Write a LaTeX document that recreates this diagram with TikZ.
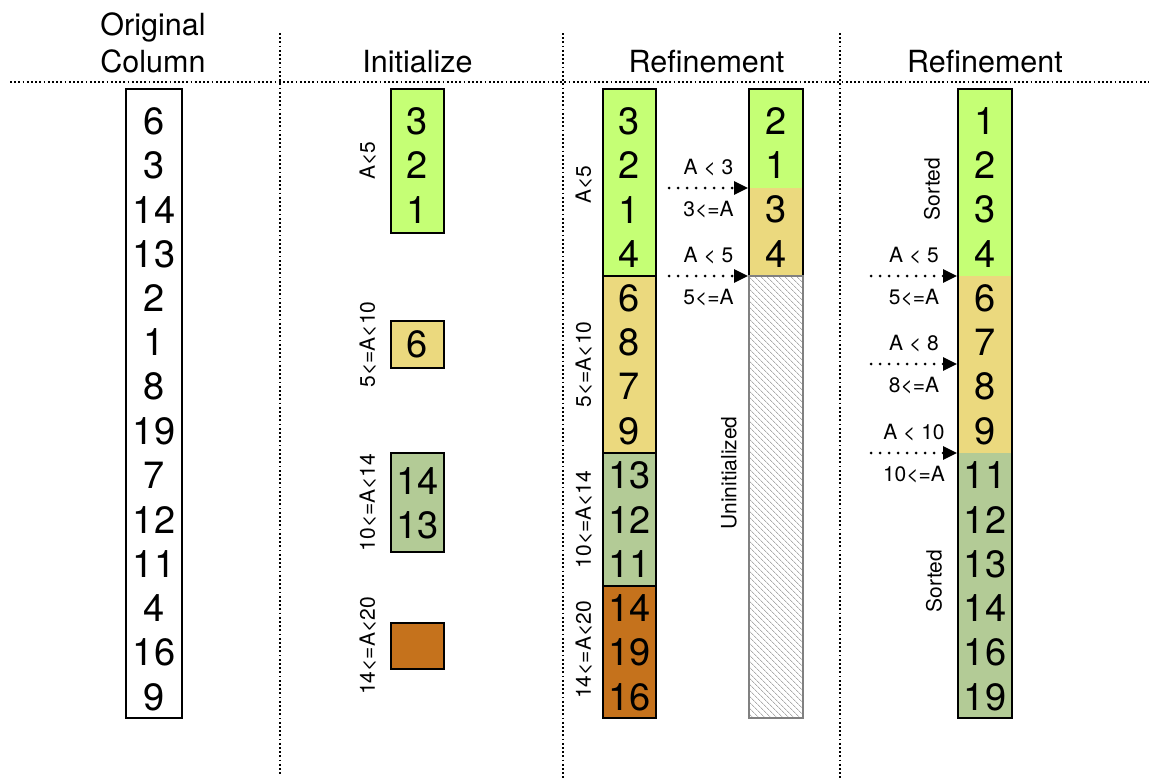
\documentclass[tikz,border=0pt]{standalone}
\usepackage{fontspec}
\setmainfont{TeX Gyre Heros}
\usetikzlibrary{arrows.meta,patterns,patterns.meta,positioning}
\definecolor{lowgreen}{RGB}{197,255,117}
\definecolor{midyellow}{RGB}{235,217,126}
\definecolor{highgreen}{RGB}{179,203,150}
\definecolor{toporange}{RGB}{197,114,28}
\tikzset{
  digit/.style={font=\fontsize{38}{38}\selectfont, inner sep=0pt},
  headtext/.style={font=\fontsize{30.5}{30.5}\selectfont, anchor=base, inner sep=0pt},
  condtext/.style={font=\fontsize{21}{21}\selectfont, inner sep=0pt},
  bandlabel/.style={condtext, rotate=90},
  colsep/.style={line width=1.8pt, dash pattern=on 1.8pt off 2.4pt},
  cellbox/.style={draw, line width=1.3pt},
  cutarrow/.style={line width=3pt, line cap=round, dash pattern=on 0pt off 9pt, -{Triangle[length=14pt,width=13pt]}},
}
\begin{document}
\begin{tikzpicture}[x=1pt,y=-1pt]
\useasboundingbox (0,0) rectangle (1149,780);
% headings
\node[headtext] (hdorig) at (153,35) {Original};
\node[headtext] (hdcol) at (153,72) {Column};
\node[headtext] (hdinit) at (417.5,72) {Initialize};
\node[headtext] (hdref1) at (706.5,72) {Refinement};
\node[headtext] (hdref2) at (985,72) {Refinement};
\draw[colsep] (10,82) -- (1149,82);
\draw[colsep] (280,33) -- (280,775);
\draw[colsep] (563,33) -- (563,780);
\draw[colsep] (840,33) -- (840,780);
% original column
\draw[cellbox] (126,89) rectangle (182,718);
\node[digit] (oc0) at (154,121) {6};
\node[digit] (oc1) at (154,165.3) {3};
\node[digit] (oc2) at (154,209.6) {14};
\node[digit] (oc3) at (154,253.9) {13};
\node[digit] (oc4) at (154,298.2) {2};
\node[digit] (oc5) at (154,342.5) {1};
\node[digit] (oc6) at (154,386.8) {8};
\node[digit] (oc7) at (154,431.1) {19};
\node[digit] (oc8) at (154,475.4) {7};
\node[digit] (oc9) at (154,519.7) {12};
\node[digit] (oc10) at (154,564) {11};
\node[digit] (oc11) at (154,608.3) {4};
\node[digit] (oc12) at (154,652.6) {16};
\node[digit] (oc13) at (154,696.9) {9};
% initialize
\draw[cellbox, fill=lowgreen] (391,89) rectangle (444,233);
\node[digit] (in0) at (417.5,121) {3};
\node[digit] (in1) at (417.5,165.3) {2};
\node[digit] (in2) at (417.5,209.6) {1};
\node[bandlabel] (inl0) at (368,161) {A<5};
\draw[cellbox, fill=midyellow] (391,321) rectangle (444,368);
\node[digit] (in3) at (417.5,344.5) {6};
\node[bandlabel] (inl1) at (368,344.5) {5<=A<10};
\draw[cellbox, fill=highgreen] (391,453) rectangle (444,552);
\node[digit] (in4) at (417.5,481) {14};
\node[digit] (in5) at (417.5,525) {13};
\node[bandlabel] (inl2) at (368,502.5) {10<=A<14};
\draw[cellbox, fill=toporange] (391,623) rectangle (444,669);
\node[bandlabel] (inl3) at (368,646) {14<=A<20};
% first refinement
\draw[cellbox, fill=lowgreen] (603,89) rectangle (656,276);
\draw[cellbox, fill=midyellow] (603,276) rectangle (656,453);
\draw[cellbox, fill=highgreen] (603,453) rectangle (656,586);
\draw[cellbox, fill=toporange] (603,586) rectangle (656,718);
\node[digit] (ra0) at (629.5,121) {3};
\node[digit] (ra1) at (629.5,165.3) {2};
\node[digit] (ra2) at (629.5,209.6) {1};
\node[digit] (ra3) at (629.5,253.9) {4};
\node[digit] (ra4) at (629.5,298.2) {6};
\node[digit] (ra5) at (629.5,342.5) {8};
\node[digit] (ra6) at (629.5,386.8) {7};
\node[digit] (ra7) at (629.5,431.1) {9};
\node[digit] (ra8) at (629.5,475.4) {13};
\node[digit] (ra9) at (629.5,519.7) {12};
\node[digit] (ra10) at (629.5,564) {11};
\node[digit] (ra11) at (629.5,608.3) {14};
\node[digit] (ra12) at (629.5,652.6) {19};
\node[digit] (ra13) at (629.5,696.9) {16};
\node[bandlabel] (ral0) at (584,185) {A<5};
\node[bandlabel] (ral1) at (584,364.5) {5<=A<10};
\node[bandlabel] (ral2) at (584,519.5) {10<=A<14};
\node[bandlabel] (ral3) at (584,650) {14<=A<20};
\fill[lowgreen] (749,89) rectangle (803,188);
\fill[midyellow] (749,188) rectangle (803,276);
\draw[cellbox] (749,276) -- (749,89) -- (803,89) -- (803,276);
\draw[line width=1.3pt, draw=gray, pattern={Lines[angle=-45,distance=4pt,line width=0.6pt]}, pattern color=gray] (749,276) rectangle (803,718);
\node[digit] (rb0) at (776,121) {2};
\node[digit] (rb1) at (776,165.3) {1};
\node[digit] (rb2) at (776,209.6) {3};
\node[digit] (rb3) at (776,253.9) {4};
\node[bandlabel] (rbl) at (729,473) {Uninitialized};
\coordinate (ca0) at (669,188);
\coordinate (cb0) at (748,188);
\coordinate (ca1) at (669,276);
\coordinate (cb1) at (748,276);
\draw[cutarrow] (ca0) -- (cb0) node[midway, above=11pt, condtext]{A < 3} node[midway, below=12pt, condtext]{3<=A};
\draw[cutarrow] (ca1) -- (cb1) node[midway, above=11pt, condtext]{A < 5} node[midway, below=12pt, condtext]{5<=A};
% second refinement
\fill[lowgreen] (958,89) rectangle (1012,276);
\fill[midyellow] (958,276) rectangle (1012,453);
\fill[highgreen] (958,453) rectangle (1012,718);
\draw[cellbox] (958,89) rectangle (1012,718);
\node[digit] (rc0) at (985,121) {1};
\node[digit] (rc1) at (985,165.3) {2};
\node[digit] (rc2) at (985,209.6) {3};
\node[digit] (rc3) at (985,253.9) {4};
\node[digit] (rc4) at (985,298.2) {6};
\node[digit] (rc5) at (985,342.5) {7};
\node[digit] (rc6) at (985,386.8) {8};
\node[digit] (rc7) at (985,431.1) {9};
\node[digit] (rc8) at (985,475.4) {11};
\node[digit] (rc9) at (985,519.7) {12};
\node[digit] (rc10) at (985,564) {13};
\node[digit] (rc11) at (985,608.3) {14};
\node[digit] (rc12) at (985,652.6) {16};
\node[digit] (rc13) at (985,696.9) {19};
\node[bandlabel] (rcl0) at (932,189) {Sorted};
\node[bandlabel] (rcl1) at (934,581) {Sorted};
\coordinate (cc0) at (871,276);
\coordinate (cd0) at (957,276);
\coordinate (cc1) at (871,364);
\coordinate (cd1) at (957,364);
\coordinate (cc2) at (871,453);
\coordinate (cd2) at (957,453);
\draw[cutarrow] (cc0) -- (cd0) node[midway, above=11pt, condtext]{A < 5} node[midway, below=12pt, condtext]{5<=A};
\draw[cutarrow] (cc1) -- (cd1) node[midway, above=11pt, condtext]{A < 8} node[midway, below=12pt, condtext]{8<=A};
\draw[cutarrow] (cc2) -- (cd2) node[midway, above=11pt, condtext]{A < 10} node[midway, below=12pt, condtext]{10<=A};
\end{tikzpicture}
\end{document}
